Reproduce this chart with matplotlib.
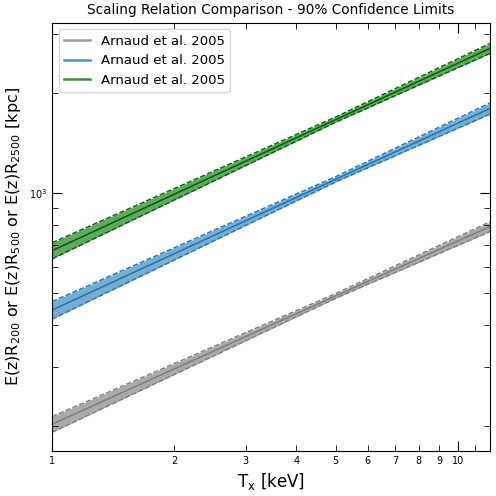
import matplotlib
matplotlib.use('Agg')
import matplotlib.pyplot as plt
import matplotlib.ticker as ticker
from matplotlib.lines import Line2D

# temperatures (keV) where the curves were read
temps = [1.0, 5.0, 12.0]

# E(z)R2500 (kpc): centre, lower, upper
r2500 = [202, 491, 793]
r2500_lo = [191, 483, 766]
r2500_hi = [213, 499, 820]

# E(z)R500
r500 = [445, 1100, 1796]
r500_lo = [418, 1080, 1726]
r500_hi = [472, 1120, 1866]

# E(z)R200
r200 = [671, 1662, 2720]
r200_lo = [634, 1632, 2627]
r200_hi = [709, 1692, 2816]

labels = ['Arnaud et al. 2005'] * 3
xtick_vals = [1, 2, 3, 4, 5, 6, 7, 8, 9, 10]

fig = plt.figure(figsize=(4.96, 4.96), dpi=100)
ax = fig.add_axes([0.105, 0.091, 0.883, 0.863])

series = [
    (r2500, r2500_lo, r2500_hi, 'gray', '#aaaaaa', 'gray', '#999999'),
    (r500, r500_lo, r500_hi, '#1f77b4', '#78add2', '#1f77b4', '#4c92c7'),
    (r200, r200_lo, r200_hi, 'darkgreen', '#62a862', 'darkgreen', '#3c8c3c'),
]

handles = []
for (mid, lo, hi, lc, fc, ec, legc), lab in zip(series, labels):
    ax.fill_between(temps, lo, hi, color=fc, lw=0)
    ax.plot(temps, mid, color=lc, lw=1.1)
    ax.plot(temps, lo, color=ec, lw=1.0, ls='--')
    ax.plot(temps, hi, color=ec, lw=1.0, ls='--')
    handles.append(Line2D([], [], color=legc, lw=1.8))

ax.set_xscale('log')
ax.set_yscale('log')
ax.set_xlim(1, 12)
ax.set_ylim(168, 3246)

ax.xaxis.set_major_locator(ticker.FixedLocator([1, 10]))
ax.xaxis.set_minor_locator(ticker.FixedLocator([2, 3, 4, 5, 6, 7, 8, 9, 11, 12]))
ax.xaxis.set_major_formatter(ticker.FuncFormatter(lambda x, _: f"{x:g}"))
ax.xaxis.set_minor_formatter(ticker.FuncFormatter(
    lambda x, _: f"{x:g}" if x in xtick_vals else ''))

ax.tick_params(which='both', direction='in', top=True, right=True, labelsize=7)
ax.tick_params(which='major', length=7)
ax.tick_params(which='minor', length=4)

ax.set_xlabel(r'$\mathrm{T_x}$ [keV]', fontsize=12)
ax.set_ylabel(r'$\mathrm{E(z)R_{200}}$ or $\mathrm{E(z)R_{500}}$ or $\mathrm{E(z)R_{2500}}$ [kpc]',
              fontsize=11.5)
ax.set_title('Scaling Relation Comparison - 90% Confidence Limits', fontsize=9.8)
ax.legend(handles, labels, loc='upper left', fontsize=9.5)

fig.savefig('out.png', dpi=100)
